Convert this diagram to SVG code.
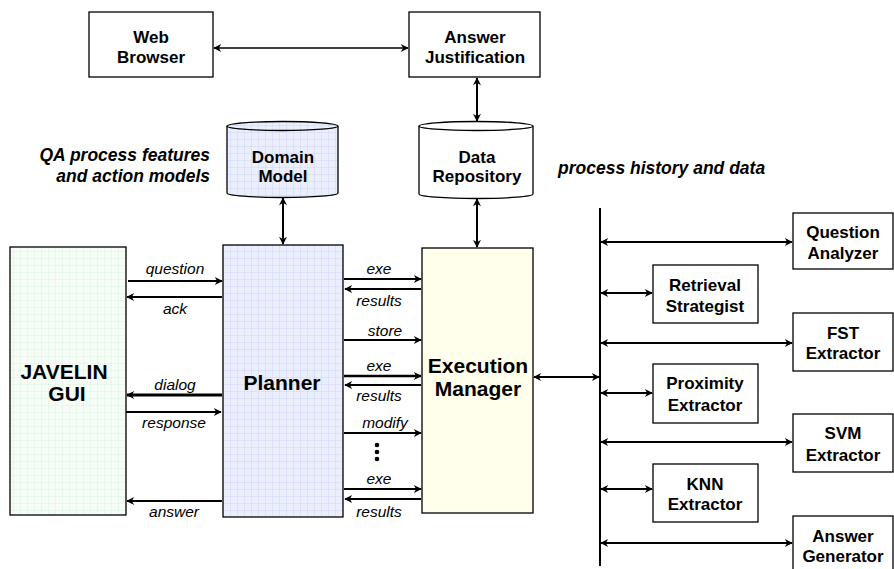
<svg xmlns="http://www.w3.org/2000/svg" width="894" height="569" viewBox="0 0 894 569">
<defs>
<pattern id="gridG" width="7" height="7" patternUnits="userSpaceOnUse">
<rect width="7" height="7" fill="#f5fdf6"/>
<path d="M7 0V7M0 7H7" stroke="#d3efdc" stroke-width="0.8" fill="none"/>
</pattern>
<pattern id="gridB" width="7" height="7" patternUnits="userSpaceOnUse">
<rect width="7" height="7" fill="#ebeffd"/>
<path d="M7 0V7M0 7H7" stroke="#c6cef6" stroke-width="0.8" fill="none"/>
</pattern>
<marker id="ah" viewBox="0 0 10 10" refX="9" refY="5" markerWidth="10" markerHeight="8" markerUnits="userSpaceOnUse" orient="auto-start-reverse">
<path d="M0 0L10 5L0 10L3 5Z" fill="#000"/>
</marker>
</defs>
<style>
.box{stroke:#000;stroke-width:1.3;fill:#fff}
.lbl{font-family:"Liberation Sans",Arial,sans-serif;font-weight:bold;font-size:17px;text-anchor:middle;fill:#000}
.big{font-family:"Liberation Sans",Arial,sans-serif;font-weight:bold;font-size:21px;text-anchor:middle;fill:#000}
.it{font-family:"Liberation Sans",Arial,sans-serif;font-style:italic;font-size:15.5px;text-anchor:middle;fill:#000}
.note{font-family:"Liberation Sans",Arial,sans-serif;font-style:italic;font-weight:bold;font-size:17.5px;fill:#000}
.ar{stroke:#000;stroke-width:2;fill:none;marker-end:url(#ah)}
.ar2{stroke:#000;stroke-width:2;fill:none;marker-end:url(#ah);marker-start:url(#ah)}
</style>

<g id="web-browser">
<rect class="box" x="89" y="12" width="124" height="65"/>
<text class="lbl" x="151" y="43">Web</text>
<text class="lbl" x="151" y="63">Browser</text>
</g>
<g id="answer-justification">
<rect class="box" x="409" y="12" width="131" height="65"/>
<text class="lbl" x="475" y="43">Answer</text>
<text class="lbl" x="475" y="63">Justification</text>
</g>
<g id="domain-model">
<path d="M227 126V193A55.5 4.5 0 0 0 338 193V126" fill="url(#gridB)" stroke="#000" stroke-width="1.3"/>
<ellipse cx="282.5" cy="126" rx="55.5" ry="4.5" fill="url(#gridB)" stroke="#000" stroke-width="1.3"/>
<text class="lbl" x="283" y="163">Domain</text>
<text class="lbl" x="283" y="182">Model</text>
</g>
<g id="data-repository">
<path d="M419 126V194A57 4.5 0 0 0 533 194V126" fill="#fff" stroke="#000" stroke-width="1.3"/>
<ellipse cx="476" cy="126" rx="57" ry="4.5" fill="#fff" stroke="#000" stroke-width="1.3"/>
<text class="lbl" x="477" y="163">Data</text>
<text class="lbl" x="477" y="182">Repository</text>
</g>
<g id="notes">
<text class="note" x="210" y="161" text-anchor="end">QA process features</text>
<text class="note" x="210" y="182" text-anchor="end">and action models</text>
<text class="note" x="558" y="174">process history and data</text>
</g>
<g id="javelin-gui">
<rect x="10" y="247" width="116" height="268" fill="url(#gridG)" stroke="#000" stroke-width="1.3"/>
<text class="big" x="64" y="379">JAVELIN</text>
<text class="big" x="67" y="401">GUI</text>
</g>
<g id="planner">
<rect x="223" y="245" width="120" height="272" fill="url(#gridB)" stroke="#000" stroke-width="1.3"/>
<text class="big" x="282" y="390">Planner</text>
</g>
<g id="execution-manager">
<rect x="422" y="248" width="111" height="265" fill="#ffffeb" stroke="#000" stroke-width="1.3"/>
<text class="big" x="478" y="373">Execution</text>
<text class="big" x="478" y="396">Manager</text>
</g>
<g id="question-analyzer">
<rect class="box" x="793" y="213" width="100" height="56"/>
<text class="lbl" x="843" y="238">Question</text>
<text class="lbl" x="843" y="259">Analyzer</text>
</g>
<g id="retrieval-strategist">
<rect class="box" x="653" y="265" width="105" height="58"/>
<text class="lbl" x="705" y="291">Retrieval</text>
<text class="lbl" x="705" y="312">Strategist</text>
</g>
<g id="fst-extractor">
<rect class="box" x="793" y="313" width="100" height="58"/>
<text class="lbl" x="843" y="339">FST</text>
<text class="lbl" x="843" y="359">Extractor</text>
</g>
<g id="proximity-extractor">
<rect class="box" x="653" y="364" width="105" height="59"/>
<text class="lbl" x="705" y="389">Proximity</text>
<text class="lbl" x="705" y="411">Extractor</text>
</g>
<g id="svm-extractor">
<rect class="box" x="793" y="414" width="100" height="58"/>
<text class="lbl" x="843" y="439">SVM</text>
<text class="lbl" x="843" y="461">Extractor</text>
</g>
<g id="knn-extractor">
<rect class="box" x="653" y="464" width="105" height="58"/>
<text class="lbl" x="705" y="490">KNN</text>
<text class="lbl" x="705" y="510">Extractor</text>
</g>
<g id="answer-generator">
<rect class="box" x="793" y="516" width="100" height="60"/>
<text class="lbl" x="843" y="542">Answer</text>
<text class="lbl" x="843" y="562">Generator</text>
</g>

<g id="connectors">
<line class="ar2" x1="214" y1="48" x2="408" y2="48" style="stroke-width:1.6"/>
<line class="ar2" x1="477" y1="78" x2="477" y2="121"/>
<line class="ar2" x1="283" y1="198" x2="283" y2="244"/>
<line class="ar2" x1="477" y1="199" x2="477" y2="247"/>
<line class="ar" x1="128" y1="281" x2="222" y2="281"/>
<line class="ar" x1="222" y1="297" x2="127" y2="297"/>
<line class="ar" x1="222" y1="395" x2="127" y2="395" style="stroke-width:3"/>
<line class="ar" x1="126" y1="412" x2="221" y2="412"/>
<line class="ar" x1="222" y1="501" x2="127" y2="501"/>
<line class="ar" x1="344" y1="279" x2="421" y2="279"/>
<line class="ar" x1="421" y1="289" x2="345" y2="289"/>
<line class="ar" x1="344" y1="340" x2="421" y2="340"/>
<line class="ar" x1="344" y1="376" x2="421" y2="376" style="stroke-width:2.5"/>
<line class="ar" x1="421" y1="385" x2="345" y2="385"/>
<line class="ar" x1="344" y1="433" x2="421" y2="433"/>
<line class="ar" x1="344" y1="489" x2="421" y2="489"/>
<line class="ar" x1="421" y1="499" x2="345" y2="499"/>
<circle cx="377" cy="445" r="2.3"/>
<circle cx="377" cy="452" r="2.3"/>
<circle cx="377" cy="459" r="2.3"/>
<line class="ar2" x1="534" y1="377" x2="599" y2="377"/>
<line x1="600" y1="208" x2="600" y2="566" stroke="#000" stroke-width="2"/>
<line class="ar2" x1="601" y1="242" x2="792" y2="242"/>
<line class="ar2" x1="601" y1="293" x2="652" y2="293"/>
<line class="ar2" x1="601" y1="343" x2="792" y2="343"/>
<line class="ar2" x1="601" y1="393" x2="652" y2="393"/>
<line class="ar2" x1="601" y1="442" x2="792" y2="442"/>
<line class="ar2" x1="601" y1="489" x2="652" y2="489"/>
<line class="ar2" x1="601" y1="543" x2="792" y2="543"/>
</g>
<g id="connector-labels">
<text class="it" x="175" y="274">question</text>
<text class="it" x="175" y="314">ack</text>
<text class="it" x="175" y="390">dialog</text>
<text class="it" x="174" y="428">response</text>
<text class="it" x="174" y="517">answer</text>
<text class="it" x="379" y="274">exe</text>
<text class="it" x="379" y="306">results</text>
<text class="it" x="385" y="336">store</text>
<text class="it" x="379" y="371">exe</text>
<text class="it" x="379" y="401">results</text>
<text class="it" x="385" y="428">modify</text>
<text class="it" x="379" y="484">exe</text>
<text class="it" x="379" y="517">results</text>
</g>
</svg>
